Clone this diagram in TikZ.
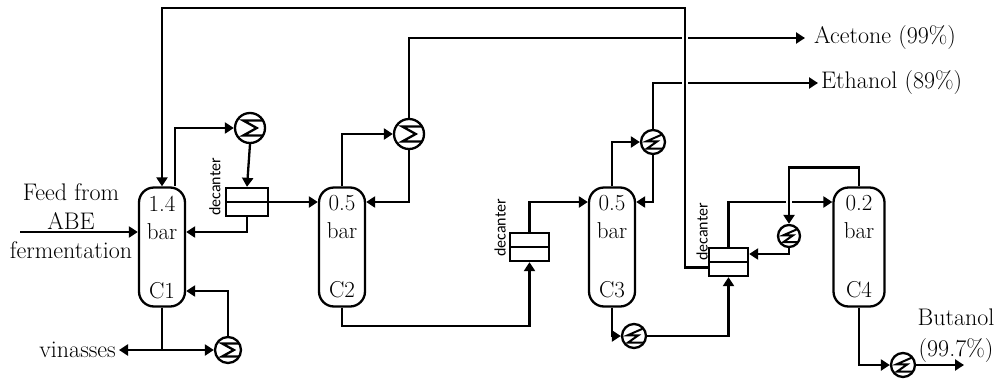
\documentclass[tikz,border=0pt]{standalone}
\usepackage{fontspec}
\usetikzlibrary{arrows.meta}
\usetikzlibrary{calc}
\usetikzlibrary{positioning}
\newfontfamily\decfont{Carlito}

\begin{document}
\begin{tikzpicture}[x=1pt,y=1pt,-,>={Triangle[length=9pt,width=11pt]},line width=2.3pt,node distance=180pt,
  column/.style={draw,fill=white,rounded corners=15pt,minimum width=46pt,minimum height=119pt,inner sep=0pt,align=center,font=\fontsize{23}{28}\selectfont},
  decanter/.style={draw,fill=white,minimum width=#1,minimum height=28pt,inner sep=0pt,path picture={\draw (path picture bounding box.west) -- (path picture bounding box.east);}},
  exchanger/.style={circle,draw,fill=white,minimum size=2*#1 pt,inner sep=0pt,path picture={\draw[shift={(path picture bounding box.center)},x=#1 pt,y=#1 pt] (1,.5) -- (-.45,.5) -- (.45,0) -- (-.45,-.5) -- (1,-.5);}},
  smallexchanger/.style={circle,draw,fill=white,minimum size=2*#1 pt,inner sep=0pt,path picture={\draw[line width=2pt,shift={(path picture bounding box.center)},x=#1 pt,y=#1 pt] (.7,.6) -- (-.55,.05) -- (.35,.05) -- (-.5,-.55) -- (.9,-.55);}},
  stream/.style={font=\fontsize{24}{29}\selectfont,inner sep=2pt,align=center},
  declabel/.style={font=\decfont\fontsize{16}{16}\selectfont,rotate=90,inner sep=0pt},
  bridge/.style={preaction={draw=white,line width=6pt,-}}]
  \useasboundingbox (0,0) rectangle (998,-378);

  \node[column] (C1) at (162,-247) {1.4\\bar\\[31pt]C1};
  \node[column] (C2) [right of=C1] {0.5\\bar\\[31pt]C2};
  \node[column] (C3) [right of=C2, node distance=270pt] {0.5\\bar\\[31pt]C3};
  \node[column, minimum width=51pt] (C4) [right of=C3, node distance=247pt] {0.2\\bar\\[31pt]C4};

  \node[decanter=42pt] (D1) at (247,-202) {};
  \node[decanter=39pt] (D2) at (529.5,-247) {};
  \node[decanter=39pt] (D3) at (728.5,-262) {};
  \node[declabel] (L1) at (215,-187) {decanter};
  \node[declabel] (L2) at (500,-228) {decanter};
  \node[declabel] (L3) at (702,-232) {decanter};

  \node[exchanger=15] (E1) at (250,-128) {};
  \node[exchanger=13] (E2) at (228,-350) {};
  \node[exchanger=15] (E3) at (409,-134) {};
  \node[smallexchanger=12] (E4) at (653,-142) {};
  \node[smallexchanger=12] (E5) at (634,-336) {};
  \node[smallexchanger=11] (E6) at (789,-236) {};
  \node[smallexchanger=12] (E7) at (903,-365) {};

  \node[stream] (feed) at (71,-221) {Feed from\\ABE\\fermentation};
  \node[stream, anchor=east] (vinasses) at (119,-350) {vinasses};
  \node[stream, anchor=west, inner xsep=8pt] (acetone) at (805,-38) {Acetone (99\%)};
  \node[stream, anchor=west] (ethanol) at (818,-83) {Ethanol (89\%)};
  \node[stream, font=\fontsize{24}{31}\selectfont] (butanol) at (956,-336) {Butanol\\(99.7\%)};

  \coordinate (feedin) at (20,-232);
  \coordinate (recycletop) at (685,-8);
  \coordinate (butanolout) at (964,-365);

  \draw[->] (feedin) -- ([yshift=15pt]C1.west);
  \draw[->] ([xshift=13pt]C1.north) |- (E1.west);
  \draw[->] (E1.south) -- (D1.north);
  \draw[->] (D1.south) |- ([yshift=15pt]C1.east);
  \draw[->] (D1.east) -- ([yshift=45pt]C2.west);
  \draw[->] (C1.south) |- (vinasses.east);
  \draw[->] (C1.south) |- (E2.west);
  \draw[->] (E2.north) |- ([yshift=-44pt]C1.east);

  \draw[->] (C2.north) |- (E3.west);
  \draw[->] (E3.north) |- (acetone.west);
  \draw[->] (E3.south) |- ([yshift=45pt]C2.east);
  \draw[->] (C2.south) -- ++(0,-18.5) -| (D2.south);
  \draw[->] (D2.north) |- ([yshift=45pt]C3.west);

  \draw[->] (C3.north) |- (E4.west);
  \draw[->] (E4.north) |- (ethanol.west);
  \draw[->] (E4.south) |- ([yshift=45pt]C3.east);
  \draw[->] (C3.south) |- (E5.west);
  \draw[->] (E5.east) -| (D3.south);
  \draw[->] (D3.north) |- ([yshift=45pt]C4.west);
  \draw[->] (E6.south) |- ([yshift=8pt]D3.east);

  \draw[->] (C4.south) |- (E7.west);
  \draw[->] (E7.east) -- (butanolout);
  \draw[->,bridge] (C4.north) -- ++(0,19) -| (E6.north);
  \draw[->,bridge] ([yshift=-5.5pt]D3.west) -| (recycletop) -| (C1.north);
\end{tikzpicture}
\end{document}
